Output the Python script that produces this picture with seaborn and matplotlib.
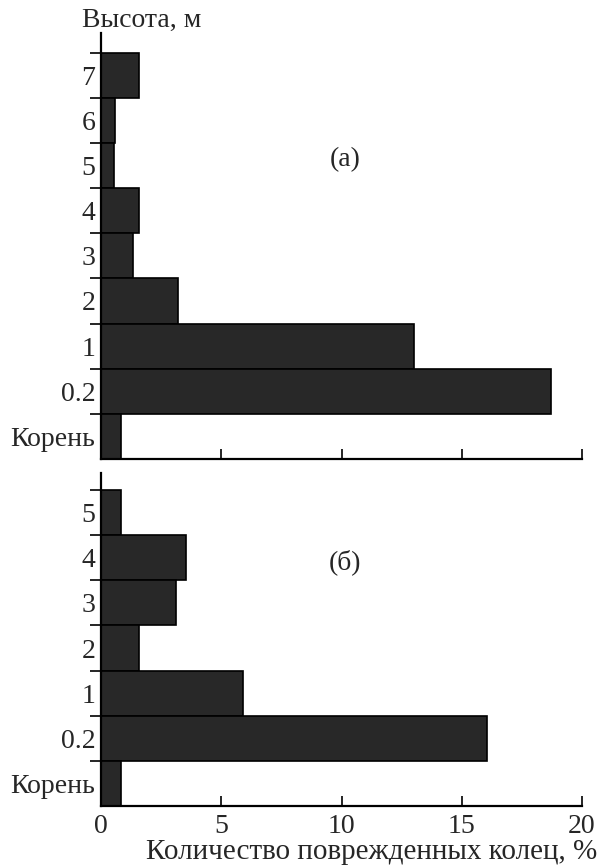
import matplotlib
matplotlib.use('Agg')
import matplotlib.pyplot as plt
import seaborn as sns
import pandas as pd
import numpy as np

# ---- data ----
levels_a = ['Корень', '0.2', '1', '2', '3', '4', '5', '6', '7']
values_a = [0.85, 18.7, 13.0, 3.2, 1.35, 1.6, 0.55, 0.6, 1.6]

levels_b = ['Корень', '0.2', '1', '2', '3', '4', '5']
values_b = [0.85, 16.05, 5.9, 1.6, 3.1, 3.55, 0.85]

x_ticks = [0, 5, 10, 15, 20]
y_title = 'Высота, м'
x_title = 'Количество поврежденных колец, %'

sns.set_style('white')
plt.rcParams['font.family'] = ['Liberation Serif', 'DejaVu Serif']
FS = 20
BAR = '#282828'

fig = plt.figure(figsize=(5.97, 8.68), dpi=100)
ax_a = fig.add_axes([0.1692, 0.4712, 0.8057, 0.4908])
ax_b = fig.add_axes([0.1692, 0.0714, 0.8057, 0.3837])


def draw(ax, levels, values, top_extra, show_xlabels):
    df = pd.DataFrame({'level': levels, 'val': values})
    order = levels[::-1]  # top to bottom
    sns.barplot(data=df, x='val', y='level', order=order, orient='h',
                width=1.0, color=BAR, edgecolor='black', linewidth=1.2,
                saturation=1, ax=ax)
    n = len(levels)
    ax.set_xlim(0, 20)
    ax.set_ylim(n - 0.5, -0.5 - top_extra)
    ax.set_xlabel('')
    ax.set_ylabel('')
    # boundary ticks (major, no label), labels at centers (minor)
    ax.set_yticks(np.arange(-0.5, n - 0.5, 1.0))
    ax.set_yticklabels([])
    ax.set_yticks(np.arange(n), minor=True)
    ax.set_yticklabels(order, minor=True, fontsize=FS)
    ax.tick_params(axis='y', which='major', direction='out', length=8,
                   width=1.2, color='black', left=True)
    ax.tick_params(axis='y', which='minor', length=0, pad=4, left=True)
    ax.set_xticks(x_ticks)
    ax.tick_params(axis='x', which='major', direction='in', length=7,
                   width=1.2, color='black', bottom=True, pad=6,
                   labelsize=FS, labelbottom=show_xlabels)
    for s in ['top', 'right']:
        ax.spines[s].set_visible(False)
    for s in ['left', 'bottom']:
        ax.spines[s].set_linewidth(1.6)
        ax.spines[s].set_color('black')
    ax.set_facecolor('white')


draw(ax_a, levels_a, values_a, 0.437, False)
draw(ax_b, levels_b, values_b, 0.377, True)

ax_b.set_xlabel(x_title, fontsize=21, ha='right', va='center')
ax_b.xaxis.set_label_coords(1.031, -0.137)

fig.text(82 / 597, 1 - 20 / 868, y_title, fontsize=FS, va='center', ha='left')
fig.text(345 / 597, 1 - 160 / 868, '(a)', fontsize=FS, va='center', ha='center')
fig.text(345 / 597, 1 - 562 / 868, '(б)', fontsize=FS, va='center', ha='center')

fig.savefig('out.png', dpi=100)
